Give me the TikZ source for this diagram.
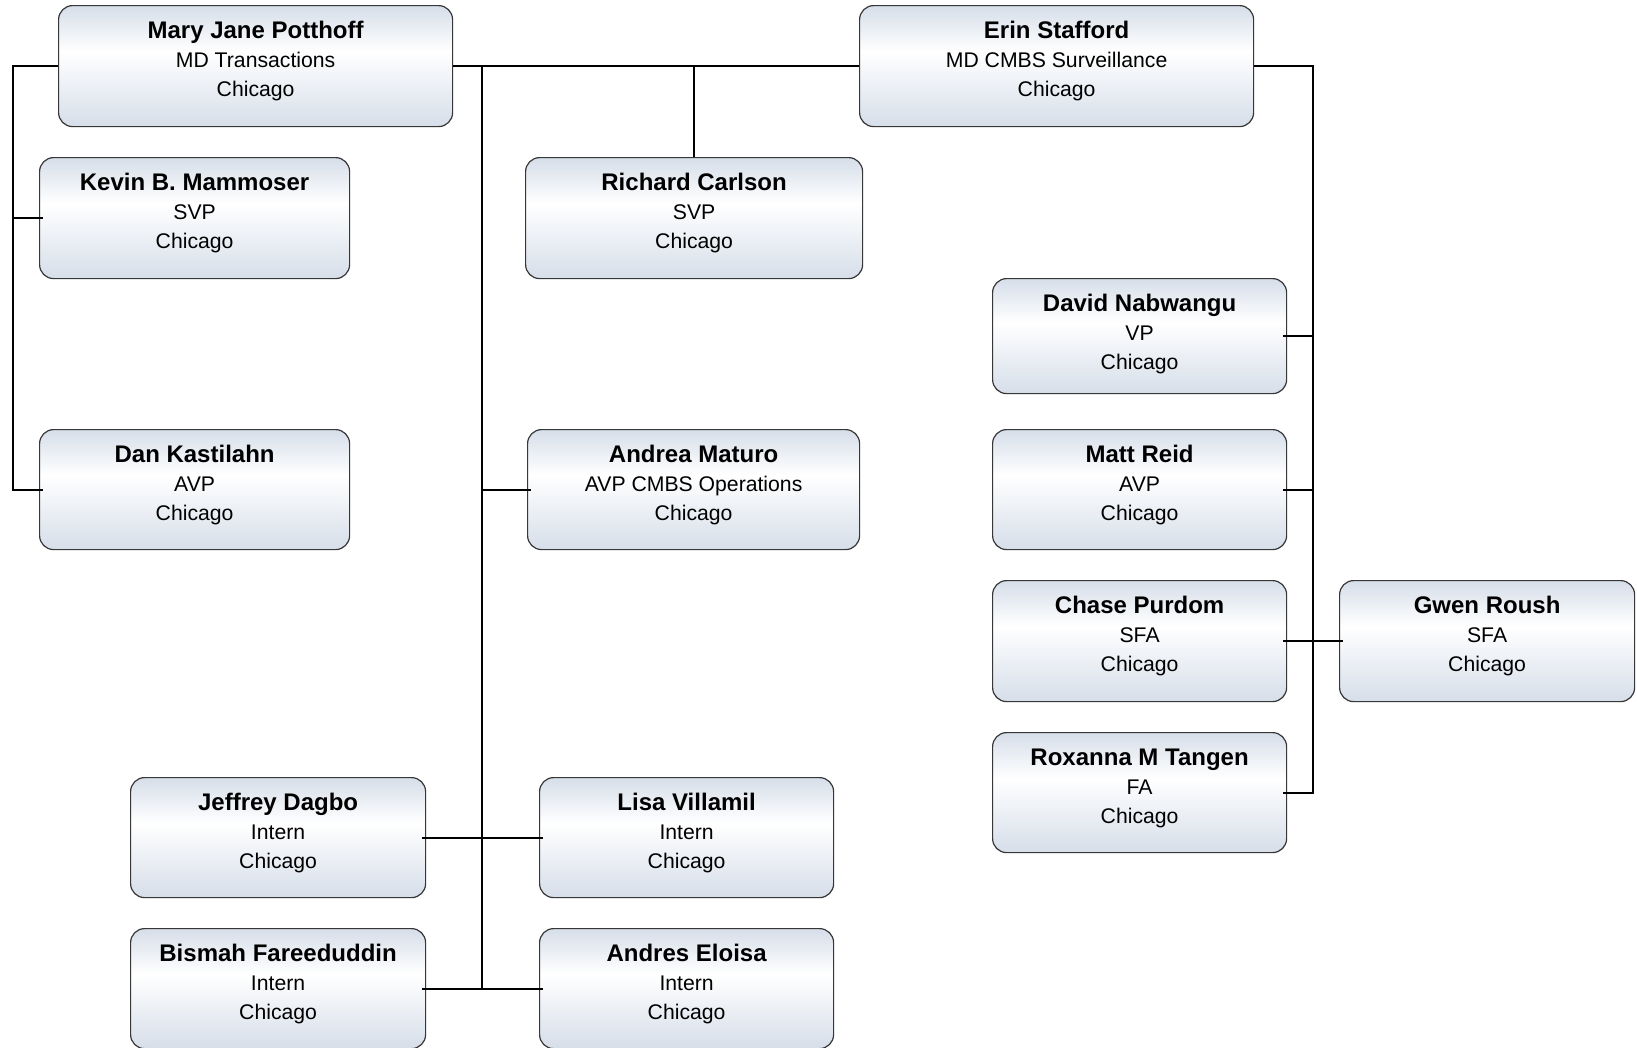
\documentclass[tikz,border=0pt]{standalone}
\usepackage{fontspec}
\setmainfont{Liberation Sans}
\usetikzlibrary{calc}
\definecolor{shadec}{RGB}{214,222,233}
\definecolor{edgec}{RGB}{55,55,55}
\pgfdeclareverticalshading{boxshade}{100bp}{color(0bp)=(shadec); color(25bp)=(shadec); color(56bp)=(white); color(75bp)=(shadec); color(100bp)=(shadec)}
\tikzset{
  personbox/.style={draw=edgec, line width=1.2pt, rounded corners=14pt, shading=boxshade, inner sep=0pt},
  nametxt/.style={font=\bfseries\fontsize{24}{29}\selectfont, inner sep=0pt},
  subtxt/.style={font=\fontsize{21.2}{29}\selectfont, inner sep=0pt},
  conn/.style={line width=2pt, black}
}
\newcommand\orgbox[8]{%
  \node[personbox, minimum width=#4pt, minimum height=#5pt, anchor=north west] (#1) at (#2,#3) {};
  \node[nametxt, anchor=base] (#1-n) at ($(#1.north)+(0,33)$) {#6};
  \node[subtxt, anchor=base] (#1-t) at ($(#1.north)+(0,62)$) {#7};
  \node[subtxt, anchor=base] (#1-c) at ($(#1.north)+(0,91)$) {#8};
}
\begin{document}
\begin{tikzpicture}[x=1pt, y=-1pt]
\useasboundingbox (0,0) rectangle (1637,1047);
\fill[white] (0,0) rectangle (1637,1047);

\orgbox{mj}{58}{5}{394}{121}{Mary Jane Potthoff}{MD Transactions}{Chicago}
\orgbox{erin}{859}{5}{394}{121}{Erin Stafford}{MD CMBS Surveillance}{Chicago}
\orgbox{kevin}{39}{157}{310}{121}{Kevin B. Mammoser}{SVP}{Chicago}
\orgbox{richard}{525}{157}{337}{121}{Richard Carlson}{SVP}{Chicago}
\orgbox{david}{992}{278}{294}{115}{David Nabwangu}{VP}{Chicago}
\orgbox{dan}{39}{429}{310}{120}{Dan Kastilahn}{AVP}{Chicago}
\orgbox{andrea}{527}{429}{332}{120}{Andrea Maturo}{AVP CMBS Operations}{Chicago}
\orgbox{matt}{992}{429}{294}{120}{Matt Reid}{AVP}{Chicago}
\orgbox{chase}{992}{580}{294}{121}{Chase Purdom}{SFA}{Chicago}
\orgbox{gwen}{1339}{580}{295}{121}{Gwen Roush}{SFA}{Chicago}
\orgbox{rox}{992}{732}{294}{120}{Roxanna M Tangen}{FA}{Chicago}
\orgbox{jeffrey}{130}{777}{295}{120}{Jeffrey Dagbo}{Intern}{Chicago}
\orgbox{lisa}{539}{777}{294}{120}{Lisa Villamil}{Intern}{Chicago}
\orgbox{bismah}{130}{928}{295}{120}{Bismah Fareeduddin}{Intern}{Chicago}
\orgbox{andres}{539}{928}{294}{120}{Andres Eloisa}{Intern}{Chicago}

\coordinate (lspine) at (13,0);
\coordinate (cspine) at (482,0);
\coordinate (rspine) at (1313,0);

% left branch
\draw[conn] (mj.west) -- (lspine |- mj.west) -- (lspine |- dan.west) -- ([xshift=4pt]dan.west);
\draw[conn] (lspine |- kevin.west) -- ([xshift=4pt]kevin.west);

% top bar
\draw[conn] (mj.east) -- (erin.west);
\draw[conn] (richard.north |- mj.east) -- (richard.north);

% center spine
\draw[conn] (cspine |- mj.east) -- (cspine |- bismah.east);
\draw[conn] (cspine |- andrea.west) -- ([xshift=4pt]andrea.west);
\draw[conn] ([xshift=-4pt]jeffrey.east) -- ([xshift=4pt]lisa.west);
\draw[conn] ([xshift=-4pt]bismah.east) -- ([xshift=4pt]andres.west);

% right spine
\draw[conn] (erin.east) -- (rspine |- erin.east) -- (rspine |- rox.east) -- ([xshift=-4pt]rox.east);
\draw[conn] (rspine |- david.east) -- ([xshift=-4pt]david.east);
\draw[conn] (rspine |- matt.east) -- ([xshift=-4pt]matt.east);
\draw[conn] ([xshift=-4pt]chase.east) -- ([xshift=4pt]gwen.west);
\end{tikzpicture}
\end{document}
